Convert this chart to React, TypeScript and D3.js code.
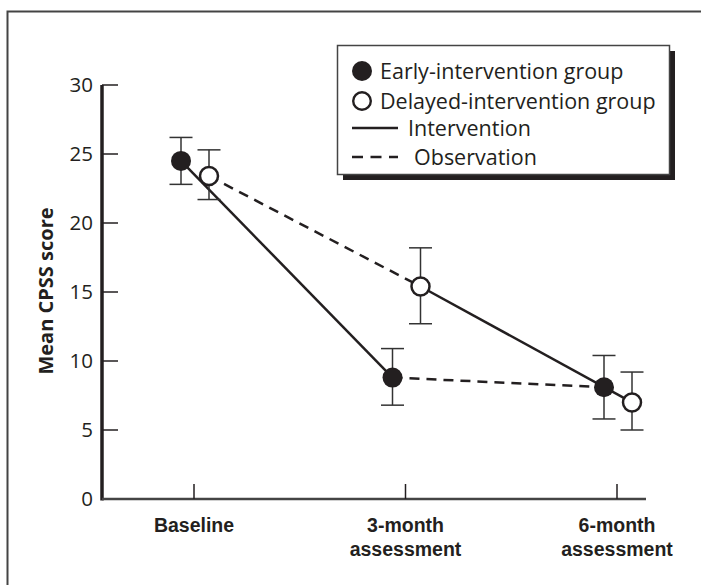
import * as d3 from "d3";

const categories = ["Baseline", "3-month assessment", "6-month assessment"];
const categoryLines = [["Baseline"], ["3-month", "assessment"], ["6-month", "assessment"]];

// mean and error bar ends
const earlyMean = [24.5, 8.8, 8.1];
const earlyHigh = [26.2, 10.9, 10.4];
const earlyLow = [22.8, 6.8, 5.8];

const delayedMean = [23.4, 15.4, 7.0];
const delayedHigh = [25.3, 18.2, 9.2];
const delayedLow = [21.7, 12.7, 5.0];

// segment style: which phase each group was in between two assessments
const earlyPhases = ["Intervention", "Observation"];
const delayedPhases = ["Observation", "Intervention"];

const yTicks = [0, 5, 10, 15, 20, 25, 30];

const legendItems = [
    {label: "Early-intervention group", kind: "filled"},
    {label: "Delayed-intervention group", kind: "open"},
    {label: "Intervention", kind: "solid"},
    {label: "Observation", kind: "dashed"},
];

const FONT = "'Open Sans', sans-serif";
const LABEL_FONT = "'Liberation Sans', Arial, sans-serif";
const INK = "#231f20";

const width = 701;
const height = 585;

const App = () => {
    const x = d3.scalePoint().domain(categories).range([194, 617]);
    const y = d3.scaleLinear().domain([0, 30]).range([499, 85]);

    const axisX = 102;
    const axisY = y(0);

    const groups = [
        {name: "early", mean: earlyMean, high: earlyHigh, low: earlyLow, offset: -13, phases: earlyPhases, fill: INK},
        {name: "delayed", mean: delayedMean, high: delayedHigh, low: delayedLow, offset: 15, phases: delayedPhases, fill: "#fff"},
    ];

    const px = (i, off) => x(categories[i]) + off;

    return (
        <svg width={width} height={height} style={{display: "block", position: "absolute", left: 0, top: 0}}>
            <rect x={0} y={0} width={width} height={height} fill="#fff" />
            {/* frame */}
            <path d={`M7.5,${height} V11.5 H${width}`} fill="none" stroke="#444" strokeWidth={2} />

            {/* y axis */}
            <line x1={axisX} x2={axisX} y1={y(30)} y2={axisY + 1.5} stroke={INK} strokeWidth={3.5} />
            {yTicks.map(t => (
                <g key={t}>
                    {t > 0 && <line x1={axisX} x2={axisX + 16} y1={y(t)} y2={y(t)} stroke={INK} strokeWidth={1.5} />}
                    <text x={93} y={y(t)} dy="0.36em" textAnchor="end" fontFamily={FONT} fontSize={20.5} fill={INK}>{t}</text>
                </g>
            ))}
            <text transform={`translate(46,${y(15) - 1}) rotate(-90)`} textAnchor="middle" dy="0.36em"
                  fontFamily={FONT} fontWeight="bold" fontSize={20} fill={INK}>Mean CPSS score</text>

            {/* x axis */}
            <line x1={axisX} x2={646} y1={axisY} y2={axisY} stroke="#444" strokeWidth={2.5} />
            {categories.map((c, i) => (
                <g key={c}>
                    <line x1={x(c)} x2={x(c)} y1={axisY} y2={axisY - 15} stroke={INK} strokeWidth={1.5} />
                    {categoryLines[i].map((l, j) => (
                        <text key={l} x={x(c)} y={532 + j * 23.5} textAnchor="middle" fontFamily={LABEL_FONT}
                              fontWeight="bold" fontSize={19.5} fill={INK}>{l}</text>
                    ))}
                </g>
            ))}

            {/* connecting lines */}
            {groups.map(g => g.phases.map((p, i) => (
                <line key={g.name + i} x1={px(i, g.offset)} y1={y(g.mean[i])} x2={px(i + 1, g.offset)} y2={y(g.mean[i + 1])}
                      stroke={INK} strokeWidth={2.5} strokeDasharray={p === "Observation" ? "10,7" : null} />
            )))}

            {/* error bars */}
            {groups.map(g => g.mean.map((m, i) => {
                const cx = px(i, g.offset);
                return (
                    <g key={g.name + "e" + i} stroke="#333" strokeWidth={1.5}>
                        <line x1={cx} x2={cx} y1={y(g.high[i])} y2={y(g.low[i])} />
                        <line x1={cx - 11.5} x2={cx + 11.5} y1={y(g.high[i])} y2={y(g.high[i])} />
                        <line x1={cx - 11.5} x2={cx + 11.5} y1={y(g.low[i])} y2={y(g.low[i])} />
                    </g>
                );
            }))}

            {/* points */}
            {groups.map(g => g.mean.map((m, i) => (
                <circle key={g.name + "p" + i} cx={px(i, g.offset)} cy={y(m)} r={g.name === "early" ? 10 : 9}
                        fill={g.fill} stroke={INK} strokeWidth={g.name === "early" ? 0 : 2.5} />
            )))}

            {/* legend */}
            <rect x={343} y={51} width={332} height={129} fill={INK} />
            <rect x={337.5} y={45.5} width={332} height={129} fill="#fff" stroke="#444" strokeWidth={1.5} />
            {legendItems.map((d, i) => {
                const ly = [71, 101, 128, 157][i];
                return (
                    <g key={d.label}>
                        {d.kind === "filled" && <circle cx={362} cy={ly} r={10} fill={INK} />}
                        {d.kind === "open" && <circle cx={362} cy={ly} r={8.8} fill="#fff" stroke={INK} strokeWidth={2.4} />}
                        {d.kind === "solid" && <line x1={352} x2={398} y1={ly} y2={ly} stroke={INK} strokeWidth={2.5} />}
                        {d.kind === "dashed" && <line x1={352} x2={398} y1={ly} y2={ly} stroke={INK} strokeWidth={2.5} strokeDasharray="11,7.5" />}
                        <text x={d.kind === "solid" ? 408 : d.kind === "dashed" ? 414 : 380} y={ly} dy="0.36em"
                              fontFamily={FONT} fontSize={21.5} fill={INK}>{d.label}</text>
                    </g>
                );
            })}
        </svg>
    );
};

export default App;
